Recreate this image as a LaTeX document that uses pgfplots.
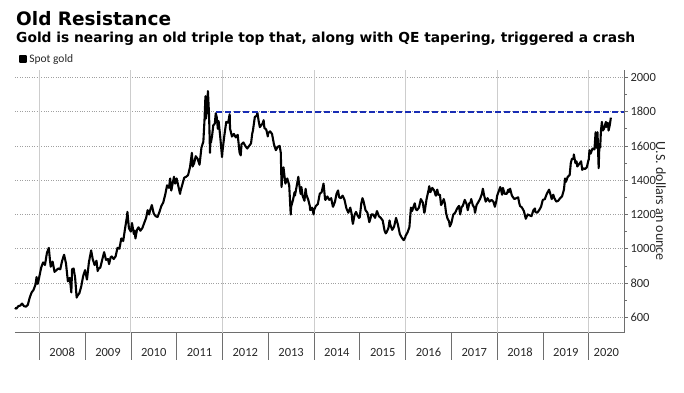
\documentclass[border=0pt]{standalone}
\usepackage{pgfplots}
\usepackage{pgfplotstable}
\pgfplotsset{compat=1.18}
\usepackage{fontspec}
\setmainfont{Carlito}
\newfontfamily\titlefont{DejaVu Sans}
\definecolor{navyline}{RGB}{25,45,180}
\definecolor{gridgray}{RGB}{205,205,205}
\definecolor{dotgray}{RGB}{160,160,160}
\definecolor{axisgray}{RGB}{110,110,110}
\definecolor{textgray}{RGB}{40,40,40}

\pgfplotstableread{
t p
5.6 655
6.0 650
6.5 665
7.0 668
7.5 680
8.0 665
8.5 662
9.0 672
9.5 715
10.0 745
10.5 760
11.0 790
11.3 835
11.6 795
12.0 835
12.5 890
13.0 920
13.5 905
14.0 975
14.5 1005
14.8 935
15.0 895
15.5 925
16.0 865
16.5 875
17.0 885
17.5 880
18.0 930
18.5 965
19.0 915
19.5 810
20.0 830
20.4 745
20.6 880
21.0 885
21.4 830
21.8 715
22.0 725
22.5 740
23.0 780
23.5 840
24.0 875
24.5 820
25.0 920
25.6 990
26.0 940
26.5 905
27.0 930
27.3 870
27.6 885
28.0 890
28.6 945
29.0 980
29.5 935
30.0 940
30.3 910
30.7 950
31.0 955
31.5 940
32.0 955
32.5 1005
33.0 1000
33.5 1060
34.0 1045
34.5 1120
35.0 1190
35.1 1215
35.5 1120
36.0 1100
36.3 1150
36.8 1085
37.0 1105
37.2 1060
37.6 1110
38.0 1125
38.5 1105
39.0 1120
39.5 1150
40.0 1180
40.4 1225
40.8 1200
41.0 1220
41.5 1255
42.0 1205
42.5 1190
43.0 1185
43.5 1215
44.0 1250
44.5 1270
45.0 1315
45.5 1370
46.0 1355
46.3 1410
46.6 1340
47.0 1385
47.3 1420
47.6 1380
48.0 1410
48.5 1360
48.9 1320
49.0 1335
49.5 1375
50.0 1415
50.5 1420
51.0 1430
51.5 1475
52.0 1560
52.2 1480
52.6 1500
53.0 1540
53.5 1525
54.0 1490
54.5 1590
55.0 1625
55.3 1750
55.55 1890
55.7 1760
56.0 1830
56.2 1920
56.5 1780
56.75 1560
56.85 1640
57.0 1620
57.3 1660
57.6 1720
58.0 1730
58.25 1790
58.5 1770
58.8 1700
59.0 1745
59.4 1660
59.9 1535
60.0 1565
60.5 1660
61.0 1740
61.5 1735
61.9 1785
62.0 1700
62.5 1655
63.0 1670
63.5 1650
64.0 1665
64.5 1560
64.8 1545
65.0 1610
65.5 1620
66.0 1600
66.5 1585
67.0 1600
67.5 1615
67.8 1670
68.0 1690
68.5 1770
69.0 1775
69.15 1795
69.5 1745
69.8 1710
70.0 1715
70.5 1730
70.8 1750
71.0 1705
71.5 1695
71.9 1655
72.0 1675
72.5 1685
73.0 1670
73.5 1610
74.0 1575
74.5 1595
75.0 1600
75.3 1560
75.5 1360
75.8 1460
76.0 1475
76.5 1380
77.0 1410
77.5 1370
77.9 1200
78.0 1245
78.5 1285
78.9 1330
79.0 1310
79.5 1370
79.9 1420
80.0 1395
80.5 1320
80.7 1360
81.0 1310
81.5 1280
81.8 1350
82.0 1315
82.5 1285
82.9 1250
83.0 1225
83.5 1240
83.9 1200
84.0 1225
84.5 1250
85.0 1260
85.5 1320
86.0 1330
86.5 1380
86.9 1290
87.0 1285
87.5 1305
88.0 1285
88.5 1295
88.9 1250
89.0 1245
89.5 1275
89.9 1320
90.0 1325
90.3 1340
90.6 1300
91.0 1295
91.5 1310
92.0 1285
92.5 1235
92.9 1215
93.0 1210
93.5 1240
93.9 1200
94.0 1170
94.2 1145
94.6 1195
95.0 1215
95.4 1195
95.8 1180
96.0 1185
96.4 1265
96.7 1295
97.0 1275
97.5 1225
98.0 1210
98.5 1155
98.9 1185
99.0 1200
99.5 1200
100.0 1180
100.5 1220
101.0 1190
101.5 1180
102.0 1165
102.5 1105
102.8 1090
103.0 1095
103.5 1120
103.8 1165
104.0 1140
104.5 1110
104.9 1125
105.0 1130
105.5 1180
106.0 1140
106.5 1085
107.0 1065
107.5 1050
107.9 1065
108.0 1075
108.5 1095
109.0 1125
109.4 1240
109.7 1220
110.0 1240
110.4 1265
110.7 1230
111.0 1225
111.5 1240
111.9 1280
112.0 1290
112.5 1270
112.9 1210
113.0 1215
113.5 1290
113.8 1320
114.0 1340
114.2 1365
114.5 1330
115.0 1355
115.5 1340
115.9 1310
116.0 1310
116.3 1345
116.6 1315
117.0 1315
117.3 1255
117.7 1270
118.0 1290
118.3 1265
118.6 1210
119.0 1175
119.4 1160
119.6 1130
120.0 1150
120.5 1200
121.0 1210
121.5 1235
122.0 1250
122.3 1200
122.7 1245
123.0 1250
123.5 1285
124.0 1260
124.3 1225
124.7 1265
125.0 1270
125.2 1290
125.6 1255
126.0 1240
126.2 1210
126.6 1255
127.0 1270
127.5 1290
128.0 1320
128.25 1350
128.6 1310
129.0 1275
129.5 1295
130.0 1275
130.5 1285
131.0 1275
131.4 1245
131.8 1280
132.0 1310
132.5 1340
132.8 1360
133.0 1345
133.3 1315
133.5 1355
134.0 1320
134.5 1320
134.9 1345
135.0 1330
135.4 1350
135.8 1315
136.0 1305
136.5 1290
137.0 1295
137.5 1300
137.8 1265
138.0 1250
138.5 1240
139.0 1220
139.5 1175
139.7 1185
140.0 1200
140.5 1195
141.0 1190
141.5 1225
141.9 1235
142.0 1215
142.5 1210
143.0 1225
143.5 1245
143.9 1280
144.0 1285
144.5 1290
145.0 1320
145.6 1345
146.0 1315
146.3 1290
146.7 1315
147.0 1295
147.5 1275
148.0 1280
148.5 1295
149.0 1305
149.5 1345
149.8 1410
150.0 1390
150.5 1420
151.0 1430
151.3 1500
151.6 1525
152.0 1525
152.1 1550
152.5 1500
152.8 1510
153.0 1480
153.5 1495
154.0 1510
154.3 1460
154.6 1470
155.0 1465
155.5 1475
155.9 1515
156.0 1520
156.2 1575
156.5 1555
157.0 1585
157.5 1580
157.8 1680
158.0 1590
158.3 1680
158.6 1470
158.8 1610
159.0 1590
159.2 1690
159.45 1740
159.7 1690
160.0 1700
160.5 1740
160.6 1710
161.0 1735
161.2 1690
161.5 1720
161.8 1765
}\gold

\begin{document}
\begin{tikzpicture}
\useasboundingbox (0,0) rectangle (684bp,-393bp);
\node[anchor=base west, inner sep=0pt] at (16bp,-25bp) {\titlefont\bfseries\fontsize{18.5bp}{22bp}\selectfont Old Resistance};
\node[anchor=base west, inner sep=0pt] at (16bp,-42bp) {\titlefont\bfseries\fontsize{13.8bp}{16bp}\selectfont Gold is nearing an old triple top that, along with QE tapering, triggered a crash};
\begin{axis}[
  at={(15bp,-332.7bp)}, anchor=south west,
  scale only axis, width=609bp, height=262.7bp,
  xmin=2007.47, xmax=2020.77, ymin=510, ymax=2043,
  clip=false,
  axis x line*=bottom, axis y line*=right,
  x axis line style={axisgray, line width=0.6bp},
  y axis line style={axisgray, line width=0.6bp},
  xtick={2008.5,2009.5,2010.5,2011.5,2012.5,2013.5,2014.5,2015.5,2016.5,2017.5,2018.5,2019.5,2020.385},
  xticklabels={2008,2009,2010,2011,2012,2013,2014,2015,2016,2017,2018,2019,2020},
  xtick style={draw=none},
  xticklabel style={font=\fontsize{12.5bp}{14bp}\selectfont, text=textgray, yshift=-8bp},
  ytick={600,800,...,2000},
  minor y tick num=1,
  ymajorgrids=true,
  major grid style={dotgray, dotted, line width=0.6bp},
  tick align=outside,
  major tick length=4bp, minor tick length=2.5bp,
  ytick style={axisgray, line width=0.6bp},
  yticklabel style={font=\fontsize{12.5bp}{14bp}\selectfont, text=textgray, xshift=-1bp},
  /pgf/number format/.cd, 1000 sep={}, assume math mode=true,
  /pgfplots/.cd,
  ylabel={U.S. dollars an ounce},
  ylabel style={at={(rel axis cs:1.0608,0.5)}, anchor=center, rotate=180, font=\fontsize{14bp}{16bp}\selectfont, text=textgray},
  legend style={at={(0,1)}, anchor=south west, xshift=4bp, yshift=4bp, draw=none, fill=none, inner sep=0pt, font=\fontsize{11.5bp}{13bp}\selectfont, text=textgray},
  legend cell align=left,
]
\pgfplotsinvokeforeach{2008,2010,2012,2014,2016,2018,2020}{
  \draw[gridgray, line width=0.7bp] (axis cs:#1,510) -- (axis cs:#1,2043);
}
\pgfplotsinvokeforeach{2008,2009,2010,2011,2012,2013,2014,2015,2016,2017,2018,2019,2020}{
  \draw[axisgray, line width=0.6bp] (axis cs:#1,510) -- ([yshift=-27bp]axis cs:#1,510);
}
\addplot[black, line width=2.1bp, line join=round,
  legend image code/.code={\fill[black] (0bp,-3bp) rectangle (6bp,3bp);}]
  table[x expr=2007+\thisrow{t}/12, y=p] {\gold};
\addlegendentry{Spot gold}
\addplot[draw=navyline, line width=2bp, dash pattern=on 6bp off 3bp, forget plot]
  coordinates {(2011.86,1800) (2020.77,1800)};
\end{axis}
\end{tikzpicture}
\end{document}
